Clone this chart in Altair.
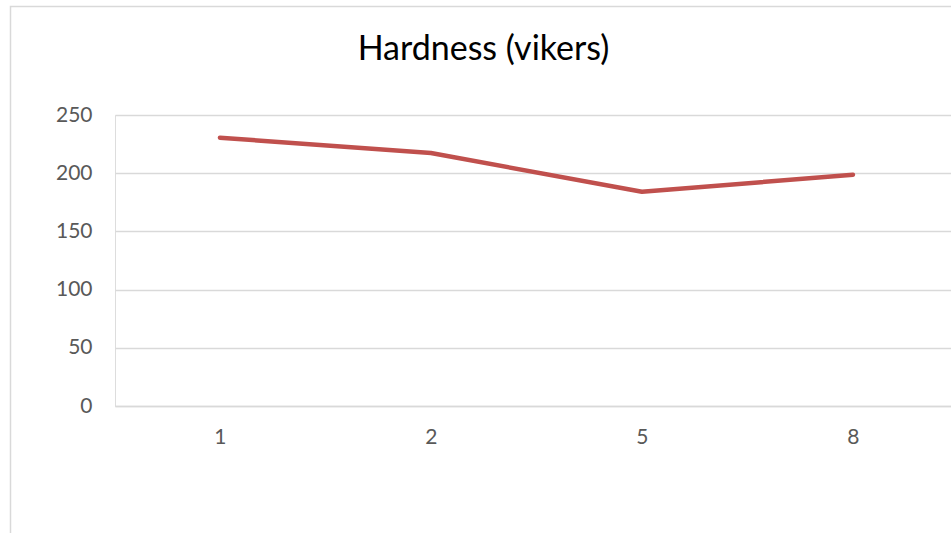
import altair as alt
import pandas as pd

categories = ["1", "2", "5", "8"]
hardness = [230.5, 217.3, 184.0, 198.7]
y_ticks = [0, 50, 100, 150, 200, 250]
title_text = "Hardness (vikers)"

df = pd.DataFrame({"cat": categories, "hardness": hardness})

W = 836
H = 291
FONT = "Lato"

base = alt.Chart(df)

line = base.mark_line(color="#C0504D", strokeWidth=4.5, strokeCap="round", strokeJoin="round").encode(
    x=alt.X("cat:O", sort=None,
            scale=alt.Scale(type="point", padding=0.481, align=0.517),
            axis=alt.Axis(title=None, labelAngle=0, labelFont=FONT, labelFontSize=21,
                          labelColor="#595959", labelPadding=20, ticks=False,
                          domainColor="#D9D9D9", domainWidth=1.5, grid=False)),
    y=alt.Y("hardness:Q",
            scale=alt.Scale(domain=[0, 250], nice=False, zero=True),
            axis=alt.Axis(title=None, values=y_ticks, labelFont=FONT, labelFontSize=21,
                          labelColor="#595959", labelPadding=23, ticks=False, domain=False,
                          gridColor="#D9D9D9", gridWidth=1.5)),
)

title = alt.Chart(pd.DataFrame({"t": [title_text]})).mark_text(
    font=FONT, fontSize=34, color="#000000", align="center", baseline="alphabetic"
).encode(text="t:N", x=alt.value(483.5 - 115), y=alt.value(60 - 115))

border = alt.Chart(pd.DataFrame({"b": [0]})).mark_rect(
    fill=None, stroke="#D9D9D9", strokeWidth=1.5
).encode(x=alt.value(10.5 - 115), x2=alt.value(957 - 115),
         y=alt.value(6.5 - 115), y2=alt.value(560 - 115))

chart = alt.layer(border, line, title).properties(
    width=W, height=H,
    autosize=alt.AutoSizeParams(type="none"),
    padding={"left": 115, "top": 115, "right": 0, "bottom": 127},
).configure_view(strokeWidth=0, stroke="transparent").configure(background="white")

chart.save("out.html", embed_options={"renderer": "svg", "actions": False})
